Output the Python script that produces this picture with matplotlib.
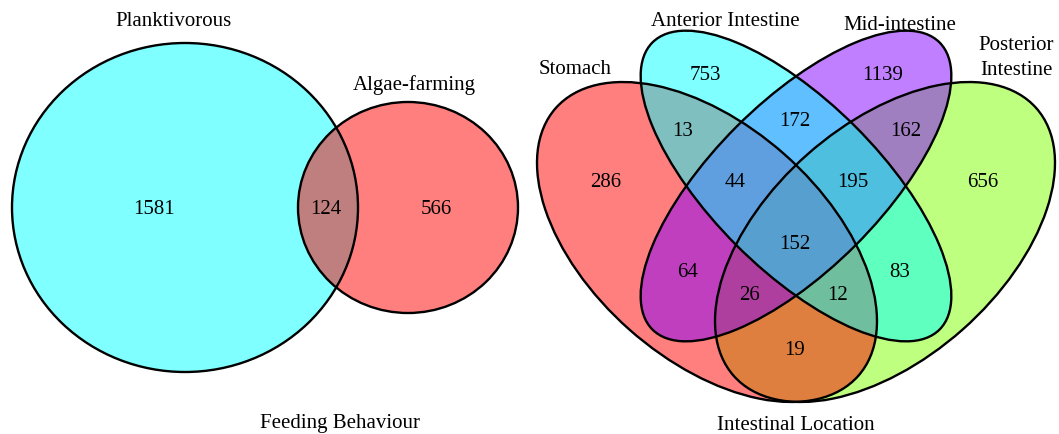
import matplotlib
matplotlib.use("Agg")
import matplotlib.pyplot as plt
from matplotlib.patches import Ellipse

plt.rcParams['font.family'] = ['Liberation Serif', 'DejaVu Serif']

# feeding behaviour (two sets)
feed_sets = ["Planktivorous", "Algae-farming"]
feed_counts = [1581, 124, 566]          # plankt. only, both, algae only
feed_title = "Feeding Behaviour"

# intestinal location (four sets)
loc_sets = ["Stomach", "Anterior Intestine", "Mid-intestine", "Posterior\nIntestine"]
loc_regions = ["A", "M", "S", "P", "SA", "AM", "MP", "SAM", "AMP", "SAMP",
               "SM", "AP", "SMP", "SAP", "SP"]
loc_counts = [753, 1139, 286, 656, 13, 172, 162, 44, 195, 152,
              64, 83, 26, 12, 19]
loc_title = "Intestinal Location"

W, H = 1059, 435
fig = plt.figure(figsize=(W / 100, H / 100), dpi=100)
ax = fig.add_axes([0, 0, 1, 1])
ax.set_xlim(0, W)
ax.set_ylim(H, 0)
ax.axis('off')

fs = 15
lw = 1.7

def shape(x, y, w, h, ang, col, z):
    ax.add_patch(Ellipse((x, y), w, h, angle=ang, facecolor=col, alpha=0.5,
                         edgecolor='none', zorder=z))

def outline(x, y, w, h, ang):
    ax.add_patch(Ellipse((x, y), w, h, angle=ang, facecolor='none',
                         edgecolor='black', lw=lw, zorder=10))

# ---- left panel
left = [(185, 208.5, 346, 329, 0, "#00FFFF"),
        (408, 208.5, 220, 211, 0, "#FF0000")]
for i, (x, y, w, h, a, c) in enumerate(left):
    shape(x, y, w, h, a, c, 1 + i)
for x, y, w, h, a, c in left:
    outline(x, y, w, h, a)

for (x, y), n in zip([(154, 210), (326, 210), (436, 210)], feed_counts):
    ax.text(x, y, str(n), fontsize=fs, ha='center', va='center', zorder=11)
ax.text(174, 22, feed_sets[0], fontsize=fs, ha='center', va='center')
ax.text(414, 85, feed_sets[1], fontsize=fs, ha='center', va='center')
ax.text(340, 424, feed_title, fontsize=fs, ha='center', va='center')

# ---- right panel: four ellipses, symmetric around x = axis
axis_x = 796
red = (707, 243, 404, 234, 41.5)
cyan = (axis_x, 187, 406, 168, 45)
ells = {
    "Stomach": (red, "#FF0000"),
    "Anterior": (cyan, "#00FFFF"),
    "Mid": ((2 * axis_x - cyan[0], cyan[1], cyan[2], cyan[3], -cyan[4]), "#8000FF"),
    "Posterior": ((2 * axis_x - red[0], red[1], red[2], red[3], -red[4]), "#80FF00"),
}
for z, key in enumerate(["Posterior", "Stomach", "Mid", "Anterior"]):
    (x, y, w, h, a), c = ells[key]
    shape(x, y, w, h, a, c, 1 + z)
for key in ells:
    (x, y, w, h, a), c = ells[key]
    outline(x, y, w, h, a)

pos = {"A": (705, 76), "M": (883, 76), "S": (606, 183), "P": (983, 183),
       "SA": (683, 132), "AM": (795, 121), "MP": (906, 132),
       "SAM": (735, 183), "AMP": (853, 183), "SAMP": (795, 245),
       "SM": (688, 273), "AP": (900, 273), "SMP": (750, 296),
       "SAP": (838, 296), "SP": (795, 351)}
for r, n in zip(loc_regions, loc_counts):
    x, y = pos[r]
    ax.text(x, y, str(n), fontsize=fs, ha='center', va='center', zorder=11)

ax.text(575, 70, loc_sets[0], fontsize=fs, ha='center', va='center')
ax.text(725, 21, loc_sets[1], fontsize=fs, ha='center', va='center')
ax.text(900, 26, loc_sets[2], fontsize=fs, ha='center', va='center')
ax.text(1016, 58, loc_sets[3], fontsize=fs, ha='center', va='center',
        linespacing=1.45)
ax.text(796, 426, loc_title, fontsize=fs, ha='center', va='center')

fig.savefig("out.png", dpi=100)
